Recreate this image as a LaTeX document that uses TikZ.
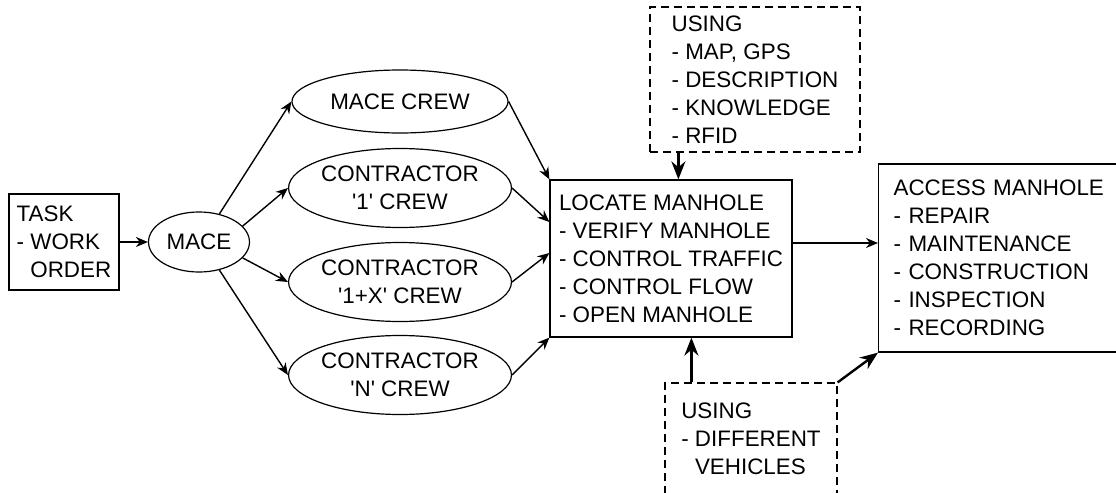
\documentclass[tikz,border=0pt]{standalone}
\usepackage{fontspec}
\setmainfont{Liberation Sans}
\usetikzlibrary{arrows.meta,shapes.geometric}
\newcommand{\apos}{\textquotesingle}

\begin{document}
\begin{tikzpicture}[
  x=0.5pt, y=-0.5pt,
  font=\fontsize{11.2}{14}\selectfont,
  box/.style={draw, line width=0.6pt, align=left, inner sep=0pt},
  dbox/.style={box, dash pattern=on 4pt off 2.5pt},
  crew/.style={draw, ellipse, line width=0.6pt, align=center, inner sep=0pt, minimum width=108pt, minimum height=39.5pt},
  arr/.style={-{Stealth[length=6pt, width=5pt]}, line width=0.7pt},
  tarr/.style={-{Stealth[length=9pt, width=7pt]}, line width=1.2pt}
]
\useasboundingbox (0,0) rectangle (1116,493);
\clip (0,0) rectangle (1116,493);

% ---------- Task and dispatcher ----------
\node[box, minimum width=55pt, minimum height=48pt] (task) at (64,242)
  {TASK\\- WORK\\\hphantom{-\ }ORDER};
\node[draw, ellipse, line width=0.6pt, inner sep=0pt, minimum width=50.5pt, minimum height=30pt] (mace) at (199,242) {MACE};

% ---------- Crews ----------
\node[crew, minimum height=31.5pt] (crew1) at (400,101.5) {MACE CREW};
\node[crew] (crew2) at (400,188) {CONTRACTOR\\\apos1\apos{} CREW};
\node[crew] (crew3) at (400,282) {CONTRACTOR\\\apos1+X\apos{} CREW};
\node[crew] (crew4) at (400,375) {CONTRACTOR\\\apos N\apos{} CREW};

% ---------- Work steps ----------
\node[box, minimum width=121pt, minimum height=78.5pt] (locate) at (671,258.5)
  {LOCATE MANHOLE\\- VERIFY MANHOLE\\- CONTROL TRAFFIC\\- CONTROL FLOW\\- OPEN MANHOLE};
\node[box, anchor=west, text width=115pt, inner xsep=7.5pt, minimum height=94pt] (access) at (878,258)
  {ACCESS MANHOLE\\- REPAIR\\- MAINTENANCE\\- CONSTRUCTION\\- INSPECTION\\- RECORDING};

% ---------- Means ----------
\node[dbox, minimum width=105pt, minimum height=72.5pt] (using1) at (755,79.5)
  {USING\\- MAP, GPS\\- DESCRIPTION\\- KNOWLEDGE\\- RFID};
\node[dbox, minimum width=86pt, minimum height=56pt] (using2) at (751,439)
  {USING\\- DIFFERENT\\\hphantom{-\ }VEHICLES};

% ---------- Dispatch ----------
\draw[arr] (task) -- (mace);
\draw[arr] (mace.54) -- (crew1.west);
\draw[arr] (mace.20) -- (crew2.west);
\draw[arr] (mace.-20) -- (crew3.west);
\draw[arr] (mace.-54) -- (crew4.west);

% ---------- Crews to locating ----------
\draw[arr] (crew1.east) -- (locate.north west);
\draw[arr] (crew2.east) -- ([yshift=18.25pt]locate.west);
\draw[arr] (crew3.east) -- ([yshift=2.75pt]locate.west);
\draw[arr] (crew4.east) -- (locate.south west);

% ---------- Locating to access ----------
\coordinate (la) at ([yshift=7.75pt]locate.east);
\draw[arr] (la) -- (la -| access.west);

% ---------- Means feeding in ----------
\coordinate (u1) at ([xshift=14.5pt]using1.south west);
\draw[tarr] (u1) -- (u1 |- locate.north);
\coordinate (u2) at ([xshift=13.5pt]using2.north west);
\draw[tarr] (u2) -- (u2 |- locate.south);
\draw[tarr] (using2.north east) -- (access.south west);
\end{tikzpicture}
\end{document}
